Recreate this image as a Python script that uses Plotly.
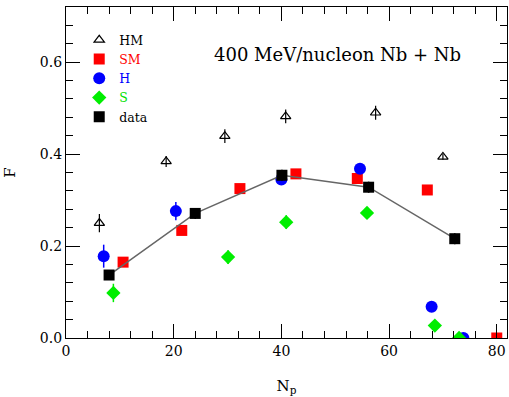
import plotly.graph_objects as go

# ---- data ----
data_x = [8.0, 24.0, 40.1, 56.2, 72.2]
data_y = [0.137, 0.271, 0.354, 0.328, 0.216]
data_err = [0.008, 0.012, 0.012, 0.012, 0.012]

sm_x = [10.6, 21.5, 32.3, 42.7, 54.1, 67.1, 80.0]
sm_y = [0.165, 0.234, 0.325, 0.357, 0.347, 0.322, 0.0]
sm_err = [0.006, 0.01, 0.01, 0.008, 0.012, 0.006, 0.0]

h_x = [7.0, 20.4, 40.0, 54.6, 67.9, 73.8]
h_y = [0.178, 0.276, 0.345, 0.368, 0.068, 0.0]
h_err = [0.025, 0.02, 0.008, 0.006, 0.004, 0.0]

s_x = [8.8, 30.1, 40.9, 55.9, 68.5, 73.0]
s_y = [0.098, 0.176, 0.252, 0.272, 0.027, 0.0]
s_err = [0.02, 0.015, 0.015, 0.012, 0.004, 0.0]

hm_x = [6.2, 18.6, 29.5, 40.8, 57.5, 70.0]
hm_y = [0.250, 0.384, 0.439, 0.482, 0.490, 0.394]
hm_err = [0.02, 0.012, 0.015, 0.015, 0.015, 0.006]

x_ticks = [0, 20, 40, 60, 80]
y_ticks = [0.0, 0.2, 0.4, 0.6]

FONT = "DejaVu Serif"

fig = go.Figure()

fig.add_trace(go.Scatter(
    x=hm_x, y=hm_y, mode="markers", name="HM",
    marker=dict(symbol="triangle-up-open", size=9, color="black", line=dict(width=1.2)),
    error_y=dict(type="data", array=hm_err, color="black", thickness=1.2, width=0),
))
fig.add_trace(go.Scatter(
    x=sm_x, y=sm_y, mode="markers", name="<span style='color:red'>SM</span>",
    marker=dict(symbol="square", size=11, color="#ff0000"),
    error_y=dict(type="data", array=sm_err, color="#ff0000", thickness=1.5, width=0),
))
fig.add_trace(go.Scatter(
    x=h_x, y=h_y, mode="markers", name="<span style='color:blue'>H</span>",
    marker=dict(symbol="circle", size=12, color="#0000ff"),
    error_y=dict(type="data", array=h_err, color="#0000ff", thickness=1.5, width=0),
))
fig.add_trace(go.Scatter(
    x=s_x, y=s_y, mode="markers", name="<span style='color:#00e000'>S</span>",
    marker=dict(symbol="diamond", size=11, color="#00ee00"),
    error_y=dict(type="data", array=s_err, color="#00ee00", thickness=1.5, width=0),
))
fig.add_trace(go.Scatter(
    x=data_x, y=data_y, mode="lines", showlegend=False,
    line=dict(color="#666666", width=1.5),
))
fig.add_trace(go.Scatter(
    x=data_x, y=data_y, mode="markers", name="data",
    marker=dict(symbol="square", size=11, color="black"),
    error_y=dict(type="data", array=data_err, color="black", thickness=1.5, width=0),
))

axis_common = dict(
    showgrid=False, zeroline=False, showline=True, linecolor="black", linewidth=1.2,
    mirror="ticks", ticks="inside", ticklen=14, tickwidth=1, tickcolor="black",
    tickfont=dict(family=FONT, size=14, color="black"),
    minor=dict(ticks="inside", ticklen=7, tickwidth=1, tickcolor="black"),
)

fig.update_xaxes(
    range=[0, 81.9], tickvals=x_ticks, ticktext=[str(v) for v in x_ticks],
    title=dict(text="N<sub>p</sub>", font=dict(family=FONT, size=15, color="black"), standoff=22),
    minor_dtick=4, minor_tick0=0,
    **axis_common,
)
fig.update_yaxes(
    range=[0, 0.72], tickvals=y_ticks, ticktext=[f"{v:.1f}" for v in y_ticks],
    title=dict(text="F", font=dict(family=FONT, size=15, color="black"), standoff=20),
    minor_dtick=0.04, minor_tick0=0,
    **axis_common,
)

fig.add_annotation(
    x=0.615, y=0.894, xref="paper", yref="paper", text="400 MeV/nucleon Nb + Nb",
    showarrow=False, font=dict(family=FONT, size=18, color="black"),
)

fig.update_layout(
    width=509, height=397,
    margin=dict(l=66, r=2, t=7, b=59),
    paper_bgcolor="white", plot_bgcolor="white",
    showlegend=True,
    legend=dict(
        x=0.03, y=0.945, xanchor="left", yanchor="top",
        bgcolor="rgba(0,0,0,0)", font=dict(family=FONT, size=12.5, color="black"),
        itemwidth=30, tracegroupgap=0,
    ),
)

fig.write_html("out.html")
